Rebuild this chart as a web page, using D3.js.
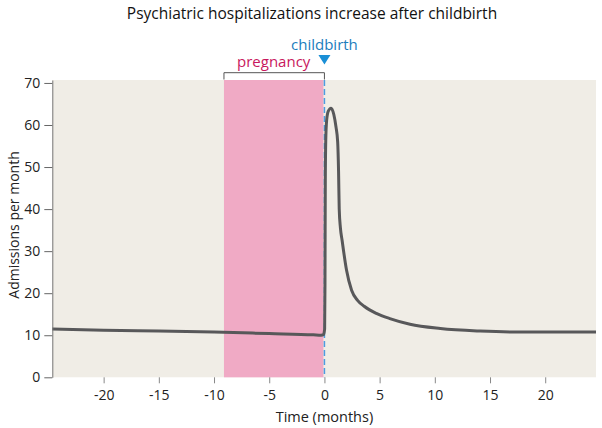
<!DOCTYPE html>
<html><head><meta charset="utf-8">
<script src="https://cdn.jsdelivr.net/npm/d3@7"></script>
<style>body{margin:0;background:#fff}svg{display:block}text{font-family:"Open Sans",sans-serif}</style>
</head><body><svg id="c" width="602" height="428"></svg>
<script>
// Data
const months = [-24.65,-20,-15,-10,-5,-1,-0.3,-0.08,0.02,0.05,0.08,0.12,0.2,0.35,0.6,0.85,1.05,1.2,1.28,1.34,1.45,1.6,2.0,2.46,3.0,3.6,4.7,6,7.75,10.5,14.1,17.7,21.3,24.6];
const admissions = [11.5,11.2,11.0,10.75,10.4,10.1,10.0,10.15,11.5,22,46.8,56.3,61.1,63.3,64.0,62.5,59.5,56,49,40,35.5,32.6,25.5,20.7,18.3,16.9,15.2,13.9,12.6,11.6,11.0,10.75,10.75,10.8];
const xTicks = [-20,-15,-10,-5,0,5,10,15,20];
const yTicks = [0,10,20,30,40,50,60,70];
const pregnancy = [-9.1, 0];
const childbirth = 0;

const svg = d3.select("#c");
const x = d3.scaleLinear().domain([-24.65, 24.6]).range([52.3, 596]);
const y = d3.scaleLinear().domain([0, 70.7]).range([377.3, 80]);
const FONT = '"Open Sans",sans-serif';

// background
svg.append("rect").attr("x", x.range()[0]).attr("y", y.range()[1])
  .attr("width", x.range()[1]-x.range()[0]).attr("height", y.range()[0]-y.range()[1])
  .attr("fill", "#f0ede6");

// pregnancy band
svg.append("rect").attr("x", x(pregnancy[0])).attr("y", y.range()[1])
  .attr("width", x(pregnancy[1])-x(pregnancy[0]) - 1).attr("height", y.range()[0]-y.range()[1])
  .attr("fill", "#f0aac5");

// childbirth dashed line
svg.append("line").attr("x1", x(childbirth)).attr("x2", x(childbirth))
  .attr("y1", y.range()[1]).attr("y2", y.range()[0])
  .attr("stroke", "#4d9be0").attr("stroke-width", 1.5).attr("stroke-dasharray", "6,3");

// curve
const line = d3.line().x((d,i)=>x(months[i])).y((d,i)=>y(admissions[i])).curve(d3.curveMonotoneX);
svg.append("path").datum(months).attr("d", line)
  .attr("fill", "none").attr("stroke", "#58585a").attr("stroke-width", 3)
  .attr("stroke-linejoin", "round").attr("stroke-linecap", "butt");

// axes
const xAxis = svg.append("g").attr("transform", `translate(0,${y.range()[0]})`)
  .call(d3.axisBottom(x).tickValues(xTicks).tickSize(6).tickPadding(7).tickFormat(d => String(d)));
xAxis.select(".domain").remove();
xAxis.selectAll(".tick line").attr("stroke", "#888");
xAxis.selectAll(".tick text").attr("font-size", 14).attr("fill", "#222").style("font-family", FONT);

const yAxis = svg.append("g").attr("transform", `translate(${x.range()[0]},0)`)
  .call(d3.axisLeft(y).tickValues(yTicks).tickSize(8).tickPadding(4).tickSizeOuter(0).tickFormat(d => String(d)));
yAxis.select(".domain").attr("stroke", "#777");
yAxis.selectAll(".tick line").attr("stroke", "#666");
yAxis.selectAll(".tick text").attr("font-size", 14).attr("fill", "#222").style("font-family", FONT);

// labels
svg.append("text").attr("x", 312).attr("y", 19).attr("text-anchor", "middle")
  .attr("font-size", 15.5).attr("fill", "#111").text("Psychiatric hospitalizations increase after childbirth");
svg.append("text").attr("x", x(0)).attr("y", 421.5).attr("text-anchor", "middle")
  .attr("font-size", 14.5).attr("fill", "#222").text("Time (months)");
svg.append("text").attr("transform", "translate(19,225) rotate(-90)").attr("text-anchor", "middle")
  .attr("font-size", 14).attr("fill", "#222").text("Admissions per month");

// pregnancy bracket
const by = 72.7, bb = 79.5;
svg.append("path")
  .attr("d", `M${x(pregnancy[0])},${bb}V${by}H${x(pregnancy[1])}V${bb}`)
  .attr("fill", "none").attr("stroke", "#555").attr("stroke-width", 1);
svg.append("text").attr("x", (x(pregnancy[0])+x(pregnancy[1]))/2 - 0.5).attr("y", 66.5)
  .attr("text-anchor", "middle").attr("font-size", 15).attr("fill", "#c8175d").text("pregnancy");

// childbirth marker
svg.append("text").attr("x", x(childbirth)).attr("y", 49.5).attr("text-anchor", "middle")
  .attr("font-size", 15).attr("fill", "#1b7dbd").text("childbirth");
const cx = x(childbirth);
svg.append("path").attr("d", `M${cx-6},55L${cx+6},55L${cx},64.5Z`).attr("fill", "#1a8fd6");
</script></body></html>
